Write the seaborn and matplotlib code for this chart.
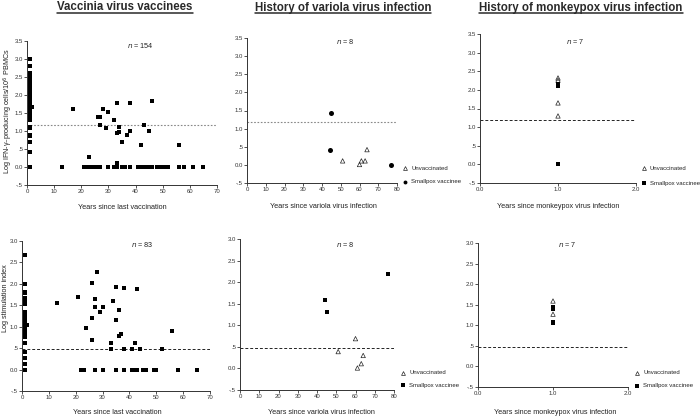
import numpy as np
import pandas as pd
import seaborn as sns
import matplotlib
matplotlib.use("Agg")
import matplotlib.pyplot as plt
from matplotlib.lines import Line2D

sns.set_style("ticks")
plt.rcParams['font.family'] = ['Liberation Sans', 'DejaVu Sans']

# ---------------- DATA ----------------
# Top-left: IFN-gamma ELISPOT, vaccinia vaccinees
vacc_ifn_col_y = [3.0, 2.8, 2.6, 2.55, 2.5, 2.45, 2.4, 2.35, 2.3, 2.25, 2.2, 2.15, 2.1, 2.05, 2.0, 1.95,
                  1.92, 1.9, 1.85, 1.8, 1.75, 1.7, 1.65, 1.6, 1.55, 1.5, 1.45, 1.4, 1.35, 1.3, 1.1,
                  1.08, 0.9, 0.88, 0.85, 0.7, 0.42, 0.0]          # ~1 year since vaccination
vacc_ifn_x = [2, 17, 23, 26, 27, 27, 28, 28, 29, 30, 32, 33, 33, 33, 34, 34, 35, 37, 38, 38, 42, 43, 45, 46, 56]
vacc_ifn_y = [1.68, 1.6, 0.29, 1.4, 1.4, 1.18, 1.62, 1.6, 1.08, 1.54, 1.3, 1.78, 0.95, 0.11, 1.12, 0.98,
              0.7, 0.89, 1.78, 0.99, 0.6, 1.18, 0.99, 1.83, 0.6]
vacc_ifn_zero_x = [13, 21, 22, 23, 24, 25, 26, 27, 30, 32, 33, 35, 36, 38, 41, 42, 43, 44, 45, 46,
                   48, 49, 50, 51, 52, 56, 58, 61, 65]

# Top-middle: IFN-gamma, history of variola infection
var_ifn_unv_x = [51, 60, 61, 63, 64]
var_ifn_unv_y = [0.11, 0.01, 0.11, 0.11, 0.42]
var_ifn_vac_x = [44, 45, 77]
var_ifn_vac_y = [0.42, 1.42, 0.01]

# Top-right: IFN-gamma, history of monkeypox infection
mpx_ifn_unv_x = [1.0, 1.0, 1.0, 1.0]
mpx_ifn_unv_y = [2.32, 2.26, 1.65, 1.30]
mpx_ifn_vac_x = [1.0, 1.0, 1.0]
mpx_ifn_vac_y = [2.15, 2.10, 0.0]

# Bottom-left: stimulation index, vaccinia vaccinees
vacc_si_col_y = [2.68, 2.0, 1.82, 1.78, 1.67, 1.63, 1.52, 1.35, 1.32, 1.3, 1.25, 1.2, 1.15, 1.12, 1.1,
                 1.05, 1.0, 0.98, 0.95, 0.9, 0.88, 0.85, 0.8, 0.75, 0.62, 0.42, 0.28, 0.12, 0.0]
vacc_si_x = [2, 13, 21, 24, 26, 26, 26, 27, 27, 28, 29, 30, 33, 33, 34, 35, 35, 36, 36, 37, 38, 38, 41,
             42, 43, 44, 52, 56]
vacc_si_y = [1.05, 1.56, 1.69, 0.96, 2.03, 1.2, 0.7, 1.64, 1.46, 2.28, 1.34, 1.46, 0.61, 0.49, 1.61, 1.92,
             1.16, 1.39, 0.78, 0.84, 1.91, 0.48, 0.48, 0.61, 1.88, 0.48, 0.48, 0.89]
vacc_si_zero_x = [22, 23, 27, 30, 35, 38, 41, 42, 43, 45, 46, 49, 50, 58, 65]

# Bottom-middle: stimulation index, variola
var_si_unv_x = [51, 60, 61, 63, 64]
var_si_unv_y = [0.39, 0.69, 0.01, 0.11, 0.30]
var_si_vac_x = [44, 45, 77]
var_si_vac_y = [1.58, 1.31, 2.2]

# Bottom-right: stimulation index, monkeypox
mpx_si_unv_x = [1.0, 1.0]
mpx_si_unv_y = [1.59, 1.27]
mpx_si_vac_x = [1.0, 1.0, 1.0, 1.0, 1.0]
mpx_si_vac_y = [1.45, 1.42, 1.39, 1.07, 1.05]

titles = ["Vaccinia virus vaccinees", "History of variola virus infection",
          "History of monkeypox virus infection"]
xlabels = ["Years since last vaccination", "Years since variola virus infection",
           "Years since monkeypox virus infection"]
ylabels = ["Log IFN-\u03b3\u2013producing cells/10$^6$ PBMCs", "Log stimulation index"]
n_labels = [["154", "8", "7"], ["83", "8", "7"]]
legend_labels = ["Unvaccinated", "Smallpox vaccinee"]
ifn_cutoff = 1.18
si_cutoff = 0.48

def combine(col_y, xs, ys, zero_x):
    x = [1] * len(col_y) + list(xs) + list(zero_x)
    y = list(col_y) + list(ys) + [0.0] * len(zero_x)
    return pd.DataFrame({"x": x, "y": y})

vacc_ifn_df = combine(vacc_ifn_col_y, vacc_ifn_x, vacc_ifn_y, vacc_ifn_zero_x)
vacc_si_df = combine(vacc_si_col_y, vacc_si_x, vacc_si_y, vacc_si_zero_x)

# ---------------- LAYOUT ----------------
W, H = 700, 418
fig = plt.figure(figsize=(7.0, 4.18), dpi=100)

def add_ax(x0, x1, ytop, ybot):
    return fig.add_axes([x0 / W, 1 - ybot / H, (x1 - x0) / W, (ybot - ytop) / H])

axes = [
    [add_ax(27, 217, 41, 185), add_ax(247, 397, 38, 183), add_ax(480, 636, 34, 183)],
    [add_ax(22, 210, 241, 391), add_ax(240, 394, 239, 390), add_ax(478, 628, 243, 387)],
]

tick_fs = 4.3
lab_fs = 5.2

def fmt_y(v):
    if abs(v) < 1e-9:
        return "0.0"
    s = f"{v:.1f}"
    if s.startswith("0."):
        s = s[1:]
    if s.startswith("-0."):
        s = "-" + s[2:]
    return s

def style(ax, xlim, xticks, xticklabels, ylim, yticks):
    ax.set_xlim(*xlim)
    ax.set_ylim(*ylim)
    ax.set_xticks(list(xticks))
    ax.set_xticklabels(xticklabels)
    ax.set_yticks(yticks)
    ax.set_yticklabels([fmt_y(v) for v in yticks])
    ax.tick_params(labelsize=tick_fs, length=2, width=0.6, pad=1, colors="#333333")
    for s in ["top", "right"]:
        ax.spines[s].set_visible(False)
    for s in ["left", "bottom"]:
        ax.spines[s].set_linewidth(0.7)
        ax.spines[s].set_color("#333333")
    ax.set_xlabel("")
    ax.set_ylabel("")

ms = 10
def filled(ax, x, y, marker="s"):
    sns.scatterplot(x=x, y=y, ax=ax, marker=marker, color="black", s=ms if marker == "s" else ms * 1.3,
                    linewidth=0, zorder=3)

def open_tri(ax, x, y):
    sns.scatterplot(x=x, y=y, ax=ax, marker="^", facecolors="none", edgecolors="#222222",
                    s=ms, linewidth=0.5, zorder=3)

dec = [str(v) for v in range(0, 71, 10)]
dec80 = [str(v) for v in range(0, 81, 10)]

# Top-left
ax = axes[0][0]
sns.scatterplot(data=vacc_ifn_df, x="x", y="y", ax=ax, marker="s", color="black", s=ms, linewidth=0, zorder=3)
ax.axhline(ifn_cutoff, color="#888888", ls=(0, (1.5, 1.5)), lw=0.8, zorder=1)
style(ax, (0, 70), range(0, 71, 10), dec, (-0.5, 3.5), np.arange(-0.5, 3.51, 0.5))

# Top-middle
ax = axes[0][1]
open_tri(ax, var_ifn_unv_x, var_ifn_unv_y)
filled(ax, var_ifn_vac_x, var_ifn_vac_y, marker="o")
ax.axhline(ifn_cutoff, color="#888888", ls=(0, (1.5, 1.5)), lw=0.8, zorder=1)
style(ax, (0, 80), range(0, 81, 10), dec80, (-0.5, 3.5), np.arange(-0.5, 3.51, 0.5))

# Top-right
ax = axes[0][2]
open_tri(ax, mpx_ifn_unv_x, mpx_ifn_unv_y)
filled(ax, mpx_ifn_vac_x, mpx_ifn_vac_y)
ax.axhline(ifn_cutoff, color="#222222", ls=(0, (3, 2)), lw=0.7, zorder=1)
style(ax, (0, 2), [0, 1, 2], ["0.0", "1.0", "2.0"], (-0.5, 3.5), np.arange(-0.5, 3.51, 0.5))

# Bottom-left
ax = axes[1][0]
sns.scatterplot(data=vacc_si_df, x="x", y="y", ax=ax, marker="s", color="black", s=ms, linewidth=0, zorder=3)
ax.axhline(si_cutoff, color="#222222", ls=(0, (3, 2)), lw=0.7, zorder=1)
style(ax, (0, 70), range(0, 71, 10), dec, (-0.5, 3.0), np.arange(-0.5, 3.01, 0.5))

# Bottom-middle
ax = axes[1][1]
open_tri(ax, var_si_unv_x, var_si_unv_y)
filled(ax, var_si_vac_x, var_si_vac_y)
ax.axhline(si_cutoff, color="#222222", ls=(0, (3, 2)), lw=0.7, zorder=1)
style(ax, (0, 80), range(0, 81, 10), dec80, (-0.5, 3.0), np.arange(-0.5, 3.01, 0.5))

# Bottom-right
ax = axes[1][2]
open_tri(ax, mpx_si_unv_x, mpx_si_unv_y)
filled(ax, mpx_si_vac_x, mpx_si_vac_y)
ax.axhline(si_cutoff, color="#222222", ls=(0, (3, 2)), lw=0.7, zorder=1)
style(ax, (0, 2), [0, 1, 2], ["0.0", "1.0", "2.0"], (-0.5, 3.0), np.arange(-0.5, 3.01, 0.5))

# n labels (positions in pixels)
n_pos = [[(140, 46), (345, 41), (575, 42)], [(142, 244), (345, 244), (567, 244)]]
for r in range(2):
    for c in range(3):
        px, py = n_pos[r][c]
        fig.text(px / W, 1 - py / H, f"$n$ = {n_labels[r][c]}", fontsize=5.2,
                 ha="center", va="center", color="#222222")

# x labels
xl_pos = [[(122, 208), (323, 207), (558, 207)], [(117, 412), (321, 412), (555, 412)]]
for r in range(2):
    for c in range(3):
        px, py = xl_pos[r][c]
        fig.text(px / W, 1 - py / H, xlabels[c], fontsize=lab_fs, ha="center", va="center", color="#222222")

# y labels
fig.text(8 / W, 1 - 111 / H, ylabels[0], fontsize=lab_fs, rotation=90, ha="center", va="center", color="#222222")
fig.text(6 / W, 1 - 298 / H, ylabels[1], fontsize=lab_fs, rotation=90, ha="center", va="center", color="#222222")

# Legends
leg_pos = [[(405, 168, 182, "o"), (644, 168, 183, "s")], [(403, 373, 385, "s"), (637, 373, 386, "s")]]
for row in leg_pos:
    for (lx, y1, y2, mk) in row:
        fig.lines.append(Line2D([lx / W], [1 - y1 / H], marker="^", markersize=2.8, mfc="none",
                                mec="#222222", mew=0.5, ls="none", transform=fig.transFigure))
        fig.lines.append(Line2D([lx / W], [1 - y2 / H], marker=mk, markersize=2.8, mfc="black",
                                mec="black", mew=0, ls="none", transform=fig.transFigure))
        fig.text((lx + 6) / W, 1 - y1 / H, legend_labels[0], fontsize=4.3, va="center", ha="left", color="#222222")
        fig.text((lx + 6) / W, 1 - y2 / H, legend_labels[1], fontsize=4.3, va="center", ha="left", color="#222222")

# Titles with underline
title_pos = [(125, 10.5), (343, 10.5), (581, 10.5)]
fig.canvas.draw()
renderer = fig.canvas.get_renderer()
for (px, py), t in zip(title_pos, titles):
    txt = fig.text(px / W, 1 - py / H, t, fontsize=8.3, fontweight="bold", ha="center", va="baseline",
                   color="#2a2a2a")
    bb = txt.get_window_extent(renderer=renderer).transformed(fig.transFigure.inverted())
    yline = 1 - (py + 2.0) / H
    fig.lines.append(Line2D([bb.x0, bb.x1], [yline, yline], color="#2a2a2a", lw=1.1,
                            transform=fig.transFigure))

fig.savefig("out.png", dpi=100)
